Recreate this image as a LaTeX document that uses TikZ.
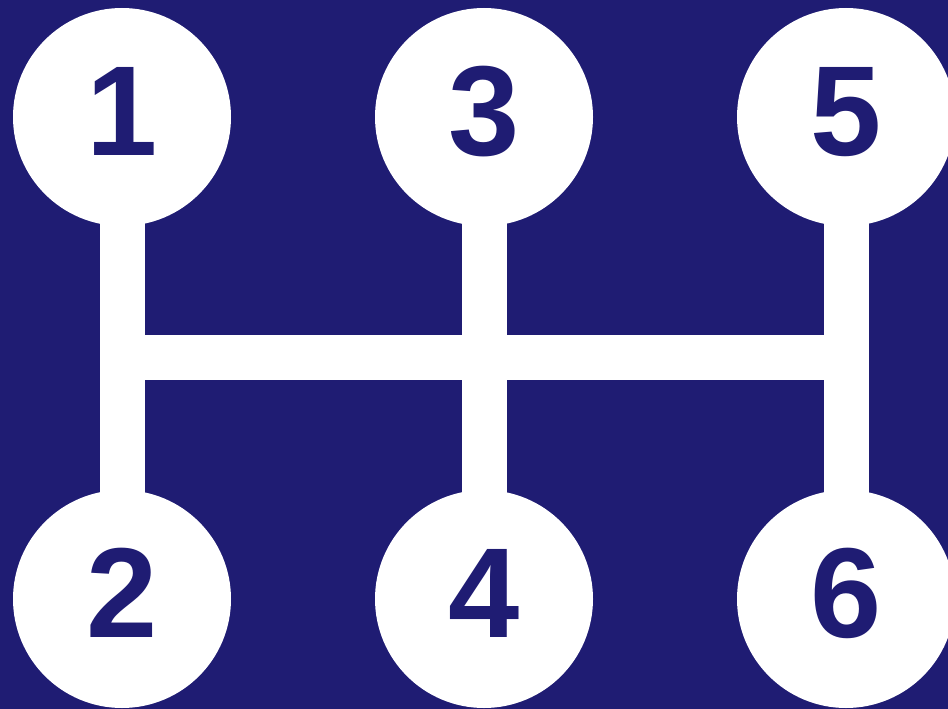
\documentclass[tikz,border=0pt]{standalone}
\usepackage{fontspec}
\setmainfont{Liberation Sans}
\definecolor{navy}{RGB}{31,28,115}
\begin{document}
\begin{tikzpicture}[x=1pt,y=-1pt,
  gear/.style={circle, fill=white, minimum size=218pt, inner sep=0pt},
  bar/.style={white, line width=45pt},
  num/.style={text=navy, inner sep=0pt, anchor=base, font=\fontsize{128}{128}\selectfont\bfseries}]
\fill[navy] (0,0) rectangle (948,709);
\useasboundingbox (0,0) rectangle (948,709);
\coordinate (h1) at (122,357);
\coordinate (h3) at (846,357);
\draw[bar] (122,117) coordinate (c1) -- (122,599) coordinate (c2);
\draw[bar] (484,117) coordinate (c3) -- (484,599) coordinate (c4);
\draw[bar] (846,117) coordinate (c5) -- (846,599) coordinate (c6);
\draw[bar] (h1) -- (h3);
\node[gear] (g1) at (c1) {};
\node[gear] (g2) at (c2) {};
\node[gear] (g3) at (c3) {};
\node[gear] (g4) at (c4) {};
\node[gear] (g5) at (c5) {};
\node[gear] (g6) at (c6) {};
\node[num] (t1) at ([yshift=-38pt]g1.center) {1};
\node[num] (t2) at ([yshift=-38pt]g2.center) {2};
\node[num] (t3) at ([yshift=-38pt]g3.center) {3};
\node[num] (t4) at ([yshift=-38pt]g4.center) {4};
\node[num] (t5) at ([yshift=-38pt]g5.center) {5};
\node[num] (t6) at ([yshift=-38pt]g6.center) {6};
\end{tikzpicture}
\end{document}
